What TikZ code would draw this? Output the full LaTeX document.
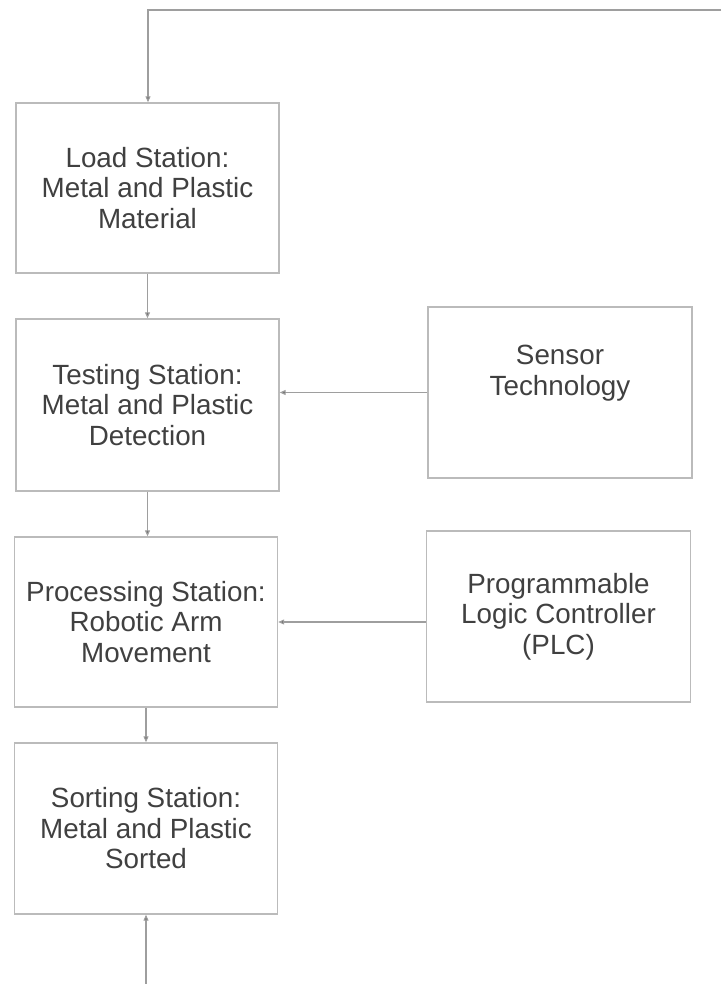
\documentclass[tikz,border=0pt]{standalone}
\usepackage{fontspec}
\setmainfont{Liberation Sans}
\usetikzlibrary{arrows.meta}

\definecolor{boxline}{HTML}{BBBBBB}
\definecolor{wireline}{HTML}{9E9E9E}
\definecolor{boxtext}{HTML}{404040}

\begin{document}
\begin{tikzpicture}[x=1pt,y=-1pt,
        stationbox/.style={draw=boxline,line width=1.4pt,rectangle,
            minimum width=263pt,minimum height=170pt,align=center,
            text=boxtext,font=\fontsize{27.8}{30.5}\selectfont,inner sep=0pt},
        wire/.style={draw=wireline,line width=1.1pt,
            -{Triangle[length=6pt,width=5pt,fill=gray!80!black]}}]
            \useasboundingbox (0,0) rectangle (721,984);

            % stations down the left
            \node[stationbox] (load) at (147.5,188) {Load Station:\\Metal and Plastic\\Material};
            \node[stationbox,minimum height=172pt] (test) at (147.5,405) {Testing Station:\\Metal and Plastic\\Detection};
            \node[stationbox] (proc) at (146,622) {Processing Station:\\Robotic Arm\\Movement};
            \node[stationbox,minimum height=171pt] (sort) at (146,828.5) {Sorting Station:\\Metal and Plastic\\Sorted};

            % inputs on the right
            \node[stationbox,minimum width=264pt,minimum height=171pt] (sensor) at (560,392.5) {Sensor\\Technology\\[14pt]};
            \node[stationbox,minimum width=264pt,minimum height=171pt] (plc) at (558.5,616.5) {Programmable\\Logic Controller\\(PLC)};

            % loose ends of the return lines
            \coordinate (topright) at (721,10);
            \coordinate (topleft) at (148,10);
            \coordinate (bottom) at (146,984);

            \draw[wire] (topright)--(topleft)--(load.north -| topleft);
            \draw[wire] (load.south)--(test.north);
            \draw[wire] (test.south)--(test.south |- proc.north);
            \draw[wire] (proc.south)--(sort.north);
            \draw[wire] (bottom)--(sort.south);

            \draw[wire] (sensor.west)--(sensor.west -| test.east);
            \draw[wire] (plc.west |- 0,622)--(proc.east |- 0,622);
        \end{tikzpicture}
\end{document}
